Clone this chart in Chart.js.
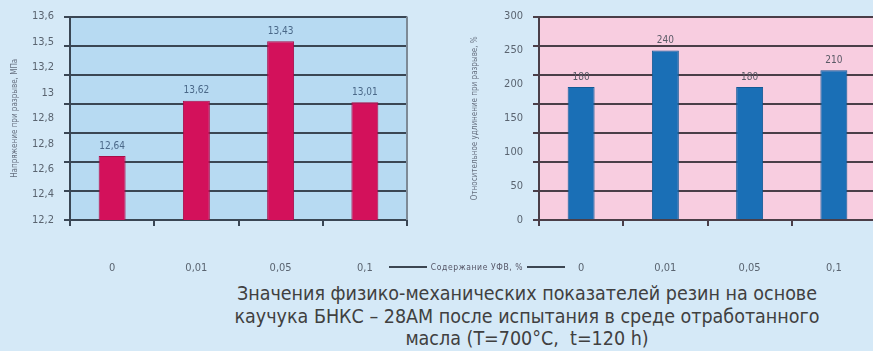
<!DOCTYPE html>
<html>
<head>
<meta charset="utf-8">
<script src="https://cdn.jsdelivr.net/npm/chart.js@4"></script>
<style>
  html, body { margin: 0; padding: 0; }
  body { width: 873px; height: 351px; overflow: hidden; background: #d5e9f7; position: relative;
         font-family: "DejaVu Sans Condensed", "Liberation Sans", sans-serif; }
  #left { position: absolute; left: 0; top: 0; }
  #right { position: absolute; left: 440px; top: 0; }
  #xtitle { position: absolute; left: 389px; top: 262px; width: 176px; display: flex; align-items: center;
            font-size: 8.5px; letter-spacing: 0.6px; color: #556; }
  #xtitle span.l { flex: 1; height: 2px; background: #3c4652; }
  #xtitle span.t { padding: 0 4px; white-space: nowrap; }
  #caption { position: absolute; left: 227px; top: 283px; width: 600px; text-align: center;
             font-size: 19.5px; line-height: 22.5px; color: #404040; }
</style>
</head>
<body>
<canvas id="left" width="440" height="280"></canvas>
<canvas id="right" width="440" height="280"></canvas>
<div id="xtitle"><span class="l"></span><span class="t">Содержание УФВ, %</span><span class="l"></span></div>
<div id="caption">Значения физико-механических показателей резин на основе<br>каучука БНКС – 28АМ после испытания в среде отработанного<br>масла (T=700°C,&nbsp; t=120 h)</div>
<script>
// categories (content of additive)
const categories = ['0', '0,01', '0,05', '0,1']

// left chart: tensile strength
const strengthValues = [12.64, 13.02, 13.43, 13.01]
const strengthLabels = ['12,64', '13,62', '13,43', '13,01']
const strengthTicks = ['13,6', '13,5', '13,2', '13', '12,8', '12,8', '12,6', '12,4', '12,2'] // top to bottom, as printed
const strengthTitle = 'Напряжение при разрыве, МПа'

// right chart: elongation at break
const elongationValues = [196, 250, 196, 221]
const elongationLabels = ['180', '240', '180', '210']
const elongationTicks = ['300', '250', '200', '150', '100', '50', '0'] // top to bottom
const elongationTitle = 'Относительное удлинение при разрыве, %'

const tickFont = { family: '"DejaVu Sans Condensed", "Liberation Sans", sans-serif', size: 11 }

const plotBg = {
  id: 'plotBg',
  beforeDraw(chart, args, opts) {
    const { ctx, chartArea: a } = chart
    ctx.save()
    ctx.fillStyle = opts.color
    ctx.fillRect(a.left, a.top, a.right - a.left, a.bottom - a.top)
    ctx.restore()
  },
  afterDraw(chart, args, opts) {
    const { ctx, chartArea: a } = chart
    ctx.save()
    ctx.strokeStyle = opts.border
    ctx.lineWidth = 2
    ctx.beginPath()
    ctx.moveTo(a.right, a.top)
    ctx.lineTo(a.right, a.bottom)
    ctx.stroke()
    ctx.restore()
  }
}

const barLabels = {
  id: 'barLabels',
  afterDatasetsDraw(chart, args, opts) {
    const { ctx } = chart
    const meta = chart.getDatasetMeta(0)
    ctx.save()
    ctx.font = '10px "DejaVu Sans Condensed", sans-serif'
    ctx.fillStyle = opts.color
    ctx.textAlign = 'center'
    ctx.textBaseline = 'bottom'
    meta.data.forEach((bar, i) => {
      ctx.fillText(opts.labels[i], bar.x, bar.y - 5)
    })
    ctx.restore()
  }
}

function makeChart(el, cfg) {
  const n = cfg.ticks.length
  return new Chart(el, {
    type: 'bar',
    data: {
      labels: categories,
      datasets: [{
        data: cfg.values,
        backgroundColor: cfg.barColor,
        borderColor: cfg.barEdge,
        borderWidth: 1,
        categoryPercentage: 1,
        barPercentage: 0.32,
        yAxisID: 'y'
      }]
    },
    options: {
      responsive: false,
      animation: false,
      layout: { padding: { left: 0, right: cfg.padRight, top: 15, bottom: 0 } },
      plugins: {
        legend: { display: false },
        tooltip: { enabled: false },
        plotBg: { color: cfg.plotColor, border: cfg.borderColor },
        barLabels: { labels: cfg.labels, color: cfg.labelColor }
      },
      scales: {
        x: {
          grid: { drawOnChartArea: false, drawTicks: true, tickLength: 6, color: cfg.gridColor, lineWidth: 2, offset: true },
          border: { color: cfg.gridColor, width: 2 },
          ticks: { font: tickFont, color: '#5a6470', padding: 36, maxRotation: 0 },
          afterFit: s => { s.height = 60 }
        },
        y: {
          position: 'left',
          weight: 0,
          min: cfg.min,
          max: cfg.max,
          afterBuildTicks: s => {
            s.ticks = cfg.gridValues.map(v => ({ value: v }))
          },
          grid: { color: cfg.gridColor, lineWidth: 2, tickLength: 6, drawTicks: true },
          border: { color: cfg.gridColor, width: 2 },
          ticks: { display: false },
          afterFit: s => { s.width = 6 }
        },
        yl: {
          position: 'left',
          weight: 1,
          min: 0,
          max: n - 1,
          ticks: {
            stepSize: 1,
            font: tickFont,
            color: '#5a6470',
            padding: 10,
            callback: v => cfg.ticks[n - 1 - v]
          },
          grid: { display: false, drawTicks: false },
          border: { display: false },
          title: {
            display: true,
            text: cfg.title,
            color: '#667080',
            font: { family: tickFont.family, size: 8 },
            padding: { top: cfg.titlePad, bottom: 0 }
          },
          afterFit: s => { s.width = cfg.labelWidth }
        }
      }
    },
    plugins: [plotBg, barLabels]
  })
}

// gridline values: 8 evenly spaced lines on each chart
const strengthGrid = [12.2, 12.4, 12.6, 12.8, 13.0, 13.2, 13.4, 13.6]
const elongationGrid = [0, 300 / 7, 600 / 7, 900 / 7, 1200 / 7, 1500 / 7, 1800 / 7, 300]

makeChart(document.getElementById('left'), {
  values: strengthValues, labels: strengthLabels, ticks: strengthTicks, title: strengthTitle,
  min: 12.2, max: 13.6, gridValues: strengthGrid,
  barColor: '#d3115b', barEdge: '#a80d48', plotColor: '#b7daf2', gridColor: '#3a4654', borderColor: '#7d8a96',
  labelColor: '#4a6888', padRight: 33, labelWidth: 64, titlePad: 10
})

makeChart(document.getElementById('right'), {
  values: elongationValues, labels: elongationLabels, ticks: elongationTicks, title: elongationTitle,
  min: 0, max: 300, gridValues: elongationGrid,
  barColor: '#1a6fb6', barEdge: '#145a96', plotColor: '#f8cde0', gridColor: '#4a3e48', borderColor: '#4a3e48',
  labelColor: '#5a5a66', padRight: 4, labelWidth: 93, titlePad: 30
})
</script>
</body>
</html>
